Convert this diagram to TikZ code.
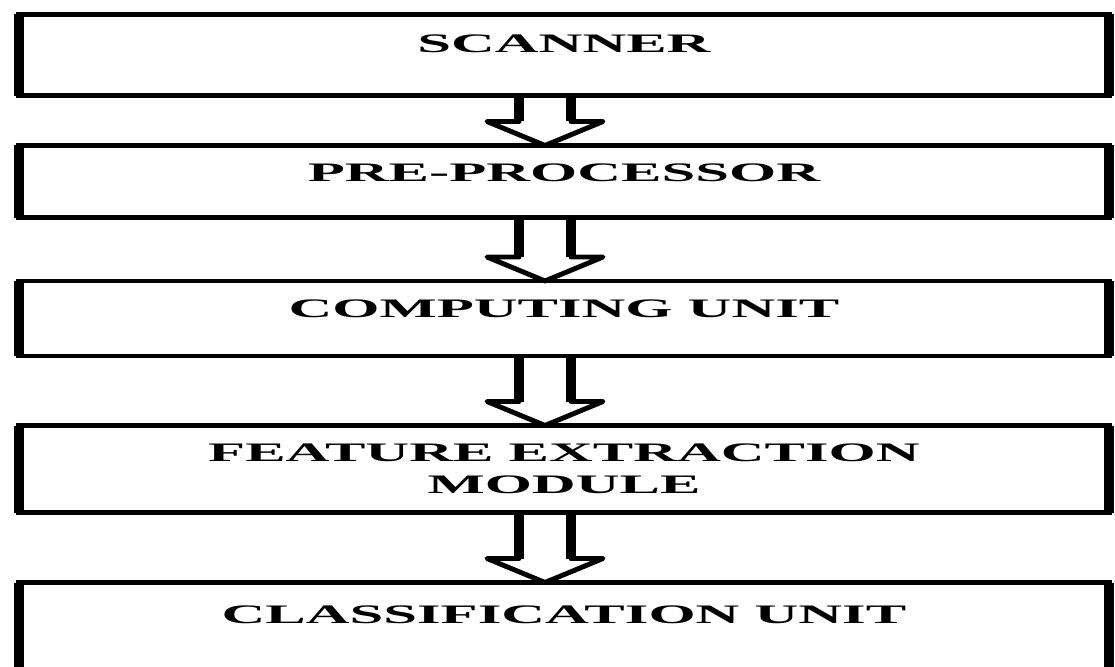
\documentclass[tikz,border=0pt]{standalone}
\usepackage{fontspec}
\usetikzlibrary{calc}
\newfontfamily\boxfont[FakeStretch=2.27]{Liberation Serif}
\newcommand{\MYSHIFT}{-19}

\begin{document}
\begin{tikzpicture}[x=0.025cm,y=-0.025cm,
    box/.style={draw,line width=3.5pt,outer sep=0pt,minimum width=27.25cm,align=center,
      font=\boxfont\bfseries\fontsize{19pt}{23pt}\selectfont},
    side/.style={line width=7pt},
    flow/.style={line width=3.5pt,line join=round}]

    \useasboundingbox (0,0) rectangle (1115,666);

    \node[box,minimum height=2.025cm,text depth=0.55cm](scan) at (564,55) {SCANNER};
    \node[box,minimum height=1.8cm,text depth=0.45cm](prep) at (564,181.5) {PRE-PROCESSOR};
    \node[box,minimum height=1.875cm,text depth=0.475cm](comp) at (564,318.5) {COMPUTING UNIT};
    \node[box,minimum height=2.175cm](feat) at (564,469) {FEATURE EXTRACTION\\MODULE};
    \node[box,minimum height=2.25cm,text depth=0.625cm](clas) at (564,627.5) {CLASSIFICATION UNIT};

    % heavier upright sides
    \foreach \n in {scan,prep,comp,feat,clas}
      \draw[side] (\n.north west) -- (\n.south west) (\n.north east) -- (\n.south east);

    \foreach \a/\b in {scan/prep,prep/comp,comp/feat,feat/clas}{% hollow block arrows
      \draw[flow] ($(\a.south)+(\MYSHIFT-26,0)$) -- ($(\b.north)+(\MYSHIFT-26,-24)$)
        -- ($(\b.north)+(\MYSHIFT-58,-24)$) -- ($(\b.north)+(\MYSHIFT,0)$)
        -- ($(\b.north)+(\MYSHIFT+58,-24)$) -- ($(\b.north)+(\MYSHIFT+26,-24)$)
        -- ($(\a.south)+(\MYSHIFT+26,0)$);
      \draw[side] ($(\a.south)+(\MYSHIFT-26,0)$) -- ($(\b.north)+(\MYSHIFT-26,-24)$)
        ($(\b.north)+(\MYSHIFT+26,-24)$) -- ($(\a.south)+(\MYSHIFT+26,0)$);
    }

\end{tikzpicture}
\end{document}
